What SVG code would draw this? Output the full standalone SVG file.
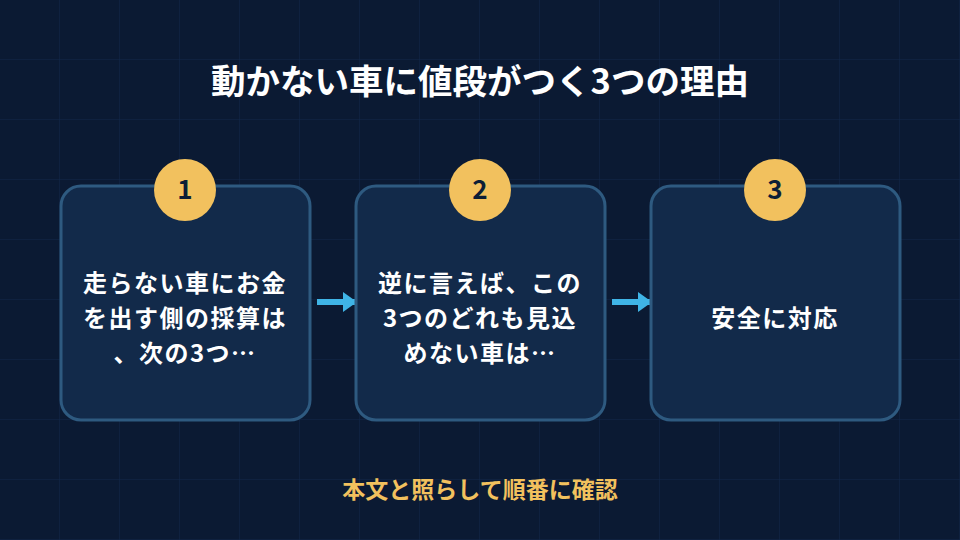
<svg xmlns="http://www.w3.org/2000/svg" width="960" height="540" viewBox="0 0 960 540">
<defs>
<pattern id="grid" width="60" height="60" patternUnits="userSpaceOnUse">
<path d="M60 0V60M0 60H60" fill="none" stroke="#11284a" stroke-width="1"/>
</pattern>
<marker id="ah" markerWidth="14" markerHeight="20" refX="13" refY="10" orient="auto" markerUnits="userSpaceOnUse"><path d="M0 0L14 10L0 20Z" fill="#3fb4e6"/></marker>
</defs>
<style>
text{font-family:"Noto Sans CJK JP","Noto Sans",sans-serif;font-weight:bold;text-anchor:middle}
.box{fill:#122a4a;stroke:#2e5a80;stroke-width:3}
.badge{fill:#f2c15e}
.num{fill:#0d1e36;font-size:26px}
.body{fill:#ffffff;font-size:24px;letter-spacing:1.5px}
.con{stroke:#3fb4e6;stroke-width:6;fill:none}
</style>
<rect width="960" height="540" fill="#0b1a33"/>
<rect width="960" height="540" fill="url(#grid)"/>
<text x="480" y="94" fill="#ffffff" font-size="34.5">動かない車に値段がつく3つの理由</text>
<g id="connectors">
<line class="con" x1="317" y1="302" x2="356" y2="302" marker-end="url(#ah)"/>
<line class="con" x1="612" y1="302" x2="651" y2="302" marker-end="url(#ah)"/>
</g>
<g id="node1">
<rect class="box" x="61" y="186" width="249" height="234" rx="20"/>
<circle class="badge" cx="185" cy="190" r="31"/>
<text class="num" x="185" y="199">1</text>
<text class="body" x="185" y="292">走らない車にお金</text>
<text class="body" x="185" y="327">を出す側の採算は</text>
<text class="body" x="185" y="362">、次の3つ…</text>
</g>
<g id="node2">
<rect class="box" x="356" y="186" width="249" height="234" rx="20"/>
<circle class="badge" cx="480" cy="190" r="31"/>
<text class="num" x="480" y="199">2</text>
<text class="body" x="480" y="292">逆に言えば、この</text>
<text class="body" x="480" y="327">3つのどれも見込</text>
<text class="body" x="480" y="362">めない車は…</text>
</g>
<g id="node3">
<rect class="box" x="651" y="186" width="249" height="234" rx="20"/>
<circle class="badge" cx="775" cy="190" r="31"/>
<text class="num" x="775" y="199">3</text>
<text class="body" x="775" y="327">安全に対応</text>
</g>
<text x="480" y="498" fill="#f2c15e" font-size="23">本文と照らして順番に確認</text>
</svg>
